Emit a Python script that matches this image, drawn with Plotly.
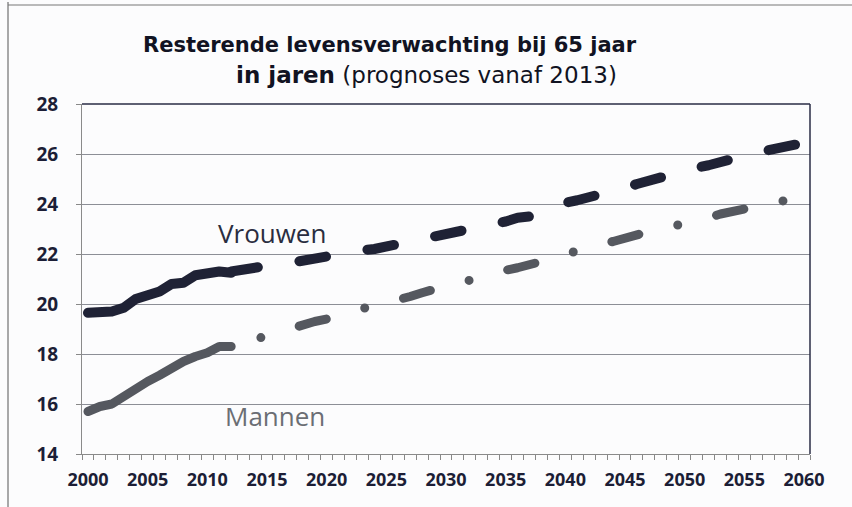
import plotly.graph_objects as go

# ---- data ----
years_hist = list(range(2000, 2013))
vrouwen_hist = [19.65, 19.68, 19.7, 19.85, 20.2, 20.35, 20.5, 20.8, 20.85, 21.15, 21.25, 21.3, 21.25]
mannen_hist = [15.7, 15.9, 16.0, 16.3, 16.7, 16.9, 17.15, 17.45, 17.7, 17.9, 18.05, 18.3, 18.3]

years_prog = list(range(2012, 2061))
vrouwen_prog = [21.3, 21.4, 21.5, 21.55, 21.6, 21.65, 21.75, 21.8, 21.85, 21.95, 22.05, 22.15, 22.2,
                22.3, 22.35, 22.45, 22.5, 22.6, 22.7, 22.8, 22.9, 23.05, 23.2, 23.3, 23.45, 23.5,
                23.7, 23.9, 24.05, 24.15, 24.25, 24.35, 24.55, 24.65, 24.8, 24.95, 25.05, 25.2,
                25.3, 25.45, 25.55, 25.7, 25.85, 25.95, 26.05, 26.15, 26.25, 26.35, 26.45]
mannen_prog = [18.3, 18.45, 18.6, 18.7, 18.85, 19.0, 19.15, 19.3, 19.4, 19.55, 19.7, 19.8, 19.95,
               20.05, 20.15, 20.3, 20.45, 20.6, 20.7, 20.85, 20.95, 21.1, 21.25, 21.35, 21.45,
               21.55, 21.7, 21.85, 22.0, 22.1, 22.25, 22.4, 22.5, 22.65, 22.8, 22.9, 23.0, 23.1,
               23.2, 23.35, 23.45, 23.6, 23.7, 23.85, 23.95, 24.0, 24.1, 24.2, 24.3]

x_tickvals = list(range(2000, 2061, 5))
x_ticktext = [str(v) for v in x_tickvals]
y_tickvals = list(range(14, 29, 2))

title_line1 = "<b>Resterende levensverwachting bij 65 jaar</b>"
title_line2 = "<b>in jaren</b> (prognoses vanaf 2013)"
label_vrouwen = "Vrouwen"
label_mannen = "Mannen"

# ---- styling ----
W, H = 852, 507
L, R, T, B = 82, 42, 104, 53
PW, PH = W - L - R, H - T - B
C_V = "#1f2235"
C_M = "#55585f"
AXIS_TXT = "#1c1e36"


def px_x(px):
    return (px - L) / PW


def px_y(py):
    return (H - B - py) / PH


fig = go.Figure()
fig.add_trace(go.Scatter(x=years_hist, y=vrouwen_hist, mode="lines",
                         line=dict(color=C_V, width=10), hoverinfo="skip"))
fig.add_trace(go.Scatter(x=years_prog, y=vrouwen_prog, mode="lines",
                         line=dict(color=C_V, width=10, dash="27px,42px"), hoverinfo="skip"))
fig.add_trace(go.Scatter(x=years_hist, y=mannen_hist, mode="lines",
                         line=dict(color=C_M, width=9), hoverinfo="skip"))
fig.add_trace(go.Scatter(x=years_prog, y=mannen_prog, mode="lines",
                         line=dict(color=C_M, width=9, dash="0px,40px,28px,40px"),
                         hoverinfo="skip"))

fig.update_layout(
    width=W, height=H,
    margin=dict(l=L, r=R, t=T, b=B),
    paper_bgcolor="#fcfcfd", plot_bgcolor="#fcfcfd",
    showlegend=False,
    annotations=[
        dict(text=title_line1, xref="paper", yref="paper", x=px_x(390), y=px_y(45),
             showarrow=False, xanchor="center", yanchor="middle",
             font=dict(family="DejaVu Sans", size=21, color="#111322")),
        dict(text=title_line2, xref="paper", yref="paper", x=px_x(426), y=px_y(75),
             showarrow=False, xanchor="center", yanchor="middle",
             font=dict(family="DejaVu Sans", size=23, color="#111322")),
        dict(text=label_vrouwen, x=2015.4, y=22.84, showarrow=False,
             xanchor="center", yanchor="middle",
             font=dict(family="Open Sans", size=26, color="#2a2d40")),
        dict(text=label_mannen, x=2015.7, y=15.53, showarrow=False,
             xanchor="center", yanchor="middle",
             font=dict(family="Open Sans", size=26, color="#6b6e74")),
    ],
    shapes=[
        # plot frame top and right (dark)
        dict(type="line", xref="paper", yref="paper", x0=0, x1=1, y0=1, y1=1,
             line=dict(color="#2a2c44", width=1.5)),
        dict(type="line", xref="paper", yref="paper", x0=1, x1=1, y0=0, y1=1,
             line=dict(color="#2a2c44", width=1.5)),
        # outer chart border (left and top)
        dict(type="line", xref="paper", yref="paper", x0=px_x(8), x1=px_x(8), y0=px_y(2), y1=px_y(507),
             line=dict(color="#555555", width=1)),
        dict(type="line", xref="paper", yref="paper", x0=px_x(8), x1=px_x(852), y0=px_y(5), y1=px_y(5),
             line=dict(color="#777777", width=1)),
    ],
)

fig.update_xaxes(
    range=[1999.5, 2060.5],
    tickmode="array", tickvals=x_tickvals, ticktext=x_ticktext,
    ticks="", showgrid=False, zeroline=False,
    showline=True, linecolor="#8a8a8a", linewidth=1,
    tickfont=dict(family="Open Sans", size=18, color=AXIS_TXT, weight="bold"),
    ticklabelstandoff=9,
    minor=dict(tickmode="linear", tick0=1999.5, dtick=1, ticks="outside", ticklen=5,
               tickcolor="#888888", showgrid=False),
)
fig.update_yaxes(
    range=[14, 28],
    tickmode="array", tickvals=y_tickvals,
    ticks="outside", ticklen=5, tickcolor="#888888",
    showgrid=True, gridcolor="#8c8e96", gridwidth=1,
    zeroline=False,
    showline=True, linecolor="#8a8a8a", linewidth=1,
    tickfont=dict(family="Open Sans", size=19, color=AXIS_TXT, weight="bold"),
    ticklabelstandoff=14,
)

post = """
document.body.style.margin = '0';
document.body.style.padding = '0';
var fix = function(){
  var paths = document.querySelectorAll('.scatterlayer path.js-line');
  paths.forEach(function(p, i){
    p.style.strokeLinecap = 'round';
    p.style.strokeLinejoin = 'round';
    if (i === 3) { p.style.strokeDashoffset = '77px'; }
  });
};
fix();
var gd = document.getElementById('{plot_id}');
if (gd && gd.on) { gd.on('plotly_afterplot', fix); }
"""

fig.write_html("out.html", config={"staticPlot": True, "responsive": False}, post_script=post)
